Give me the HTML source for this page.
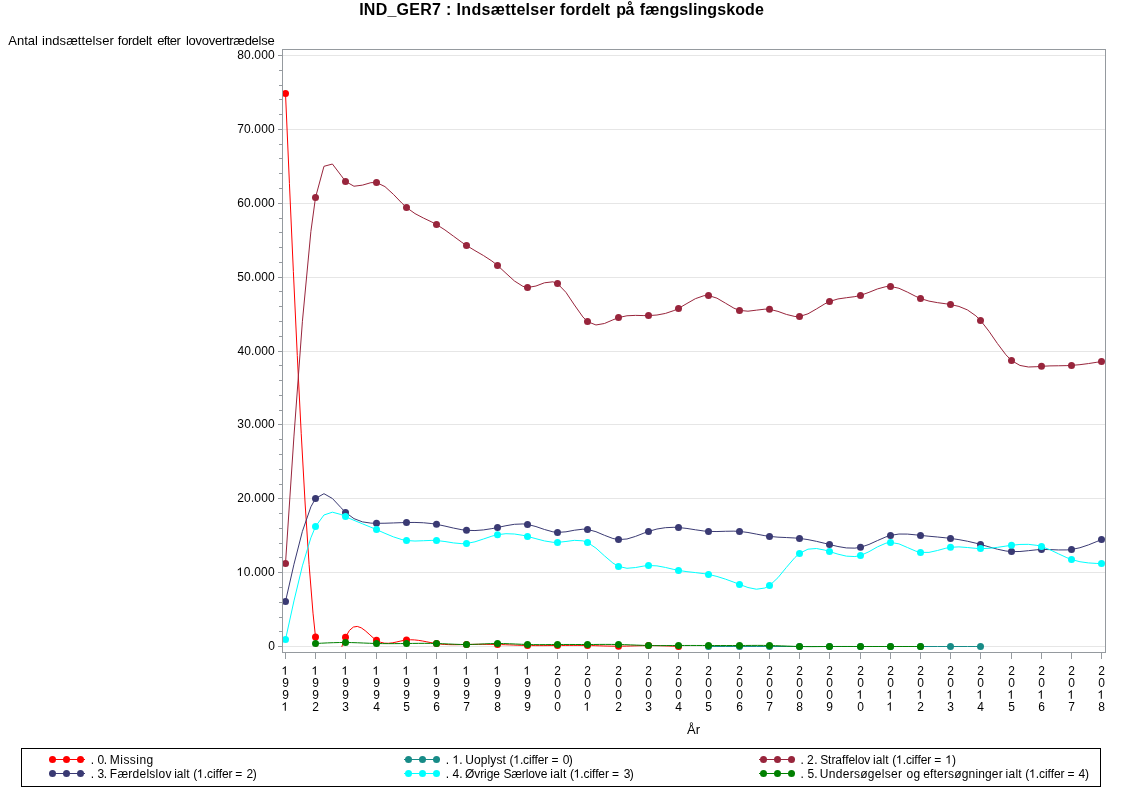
<!DOCTYPE html>
<html><head><meta charset="utf-8"><title>IND_GER7</title>
<style>
html,body{margin:0;padding:0;background:#fff;}
svg{display:block;will-change:transform;}
text{font-family:"Liberation Sans",sans-serif;fill:#000;font-kerning:none;white-space:pre;}
</style></head><body>
<svg width="1122" height="793" viewBox="0 0 1122 793">
<rect x="0" y="0" width="1122" height="793" fill="#fff"/>
<defs>
<clipPath id="cw"><rect x="282" y="49" width="824" height="604"/></clipPath>
<path id="one" d="M763 0H583V1147Q518 1085 412.5 1023Q307 961 223 930V1104Q374 1175 487 1276Q600 1377 647 1472H763Z"/>
</defs>
<g stroke="#E6E6E6" stroke-width="1" shape-rendering="crispEdges"><line x1="283" x2="1105" y1="646.5" y2="646.5"/><line x1="283" x2="1105" y1="572.5" y2="572.5"/><line x1="283" x2="1105" y1="498.5" y2="498.5"/><line x1="283" x2="1105" y1="424.5" y2="424.5"/><line x1="283" x2="1105" y1="351.5" y2="351.5"/><line x1="283" x2="1105" y1="277.5" y2="277.5"/><line x1="283" x2="1105" y1="203.5" y2="203.5"/><line x1="283" x2="1105" y1="129.5" y2="129.5"/><line x1="283" x2="1105" y1="55.5" y2="55.5"/></g>
<g clip-path="url(#cw)"><path d="M285.50 93.60 L289.43 183.54 L293.36 271.52 L297.29 355.57 L301.22 433.72 L305.15 504.01 L309.08 564.48 L313.01 613.15 L315.50 637.00 L316.77 646.90 M341.78 646.90 L343.01 643.42 L345.50 637.20 L349.43 630.43 L353.36 627.05 L357.29 626.41 L361.22 627.82 L365.15 630.61 L369.08 634.12 L373.01 637.66 L376.50 640.30 L380.43 642.23 L384.36 643.16 L388.29 643.29 L392.22 642.86 L396.15 642.08 L400.08 641.18 L404.01 640.37 L406.50 640.00 L410.43 639.77 L414.36 639.90 L418.29 640.33 L422.22 640.95 L426.15 641.70 L430.08 642.47 L434.01 643.20 L436.50 643.60 L440.43 644.08 L444.36 644.41 L448.29 644.60 L452.22 644.68 L456.15 644.68 L460.08 644.63 L464.01 644.55 L466.50 644.50 L470.43 644.43 L474.36 644.37 L478.29 644.34 L482.22 644.32 L486.15 644.33 L490.08 644.37 L494.01 644.42 L497.50 644.50 L501.43 644.61 L505.36 644.74 L509.29 644.89 L513.22 645.04 L517.15 645.19 L521.08 645.32 L525.01 645.44 L527.50 645.50 L531.43 645.57 L535.36 645.61 L539.29 645.62 L543.22 645.62 L547.15 645.60 L551.08 645.56 L555.01 645.53 L557.50 645.50 L561.43 645.46 L565.36 645.43 L569.29 645.40 L573.22 645.39 L577.15 645.39 L581.08 645.41 L585.01 645.46 L587.50 645.50 L591.43 645.59 L595.36 645.70 L599.29 645.82 L603.22 645.94 L607.15 646.05 L611.08 646.13 L615.01 646.19 L618.50 646.20 L622.43 646.17 L626.36 646.10 L630.29 646.00 L634.22 645.89 L638.15 645.78 L642.08 645.69 L646.01 645.62 L648.50 645.60 L652.43 645.60 L656.36 645.65 L660.29 645.73 L664.22 645.84 L668.15 645.98 L672.08 646.13 L676.01 646.29 L678.50 646.40" fill="none" stroke="#FF0000" stroke-width="1"/>
<g fill="#FF0000"><circle cx="285.5" cy="93.6" r="3.5"/><circle cx="315.5" cy="637.0" r="3.5"/><circle cx="345.5" cy="637.2" r="3.5"/><circle cx="376.5" cy="640.3" r="3.5"/><circle cx="406.5" cy="640.0" r="3.5"/><circle cx="436.5" cy="643.6" r="3.5"/><circle cx="466.5" cy="644.5" r="3.5"/><circle cx="497.5" cy="644.5" r="3.5"/><circle cx="527.5" cy="645.5" r="3.5"/><circle cx="557.5" cy="645.5" r="3.5"/><circle cx="587.5" cy="645.5" r="3.5"/><circle cx="618.5" cy="646.2" r="3.5"/><circle cx="648.5" cy="645.6" r="3.5"/><circle cx="678.5" cy="646.4" r="3.5"/></g></g>
<g clip-path="url(#cw)"><path d="M708.50 646.50 L716.96 646.50 L725.42 646.50 L733.88 646.50 L739.50 646.50 L747.96 646.50 L756.42 646.50 L764.88 646.50 L769.50 646.50 L777.96 646.50 L786.42 646.50 L794.88 646.50 L799.50 646.50 L807.96 646.50 L816.42 646.50 L824.88 646.50 L829.50 646.50 L837.96 646.50 L846.42 646.50 L854.88 646.50 L860.50 646.50 L868.96 646.50 L877.42 646.50 L885.88 646.50 L890.50 646.50 L898.96 646.50 L907.42 646.50 L915.88 646.50 L920.50 646.50 L928.96 646.50 L937.42 646.50 L945.88 646.50 L950.50 646.50 L958.96 646.50 L967.42 646.50 L975.88 646.50 L980.50 646.50" fill="none" stroke="#178B87" stroke-width="1"/>
<g fill="#178B87"><circle cx="708.5" cy="646.5" r="3.5"/><circle cx="739.5" cy="646.5" r="3.5"/><circle cx="769.5" cy="646.5" r="3.5"/><circle cx="799.5" cy="646.5" r="3.5"/><circle cx="829.5" cy="646.5" r="3.5"/><circle cx="860.5" cy="646.5" r="3.5"/><circle cx="890.5" cy="646.5" r="3.5"/><circle cx="920.5" cy="646.5" r="3.5"/><circle cx="950.5" cy="646.5" r="3.5"/><circle cx="980.5" cy="646.5" r="3.5"/></g></g>
<g clip-path="url(#cw)"><path d="M285.50 563.40 L293.96 436.09 L302.42 321.29 L310.88 231.50 L315.50 197.50 L323.96 166.32 L332.42 164.03 L340.88 175.18 L345.50 181.40 L353.96 186.23 L362.42 185.15 L370.88 182.68 L376.50 182.50 L384.96 186.61 L393.42 194.34 L401.88 203.15 L406.50 207.50 L414.96 213.59 L423.42 218.03 L431.88 222.05 L436.50 224.50 L444.96 229.94 L453.42 236.13 L461.88 242.35 L466.50 245.50 L474.96 250.62 L483.42 255.51 L491.88 261.00 L497.50 265.40 L505.96 273.26 L514.42 280.96 L522.88 286.33 L527.50 287.50 L535.96 286.02 L544.42 282.81 L552.88 281.80 L557.50 283.60 L565.96 292.37 L574.42 304.97 L582.88 316.94 L587.50 321.60 L595.96 324.98 L604.42 323.50 L612.88 319.88 L618.50 317.60 L626.96 315.77 L635.42 315.39 L643.88 315.58 L648.50 315.60 L656.96 315.03 L665.42 313.43 L673.88 310.57 L678.50 308.40 L686.96 303.47 L695.42 298.66 L703.88 295.71 L708.50 295.50 L716.96 298.17 L725.42 303.14 L733.88 308.15 L739.50 310.40 L747.96 311.20 L756.42 310.16 L764.88 309.16 L769.50 309.30 L777.96 311.39 L786.42 314.43 L794.88 316.49 L799.50 316.50 L807.96 313.82 L816.42 308.97 L824.88 303.80 L829.50 301.50 L837.96 298.94 L846.42 297.72 L854.88 296.63 L860.50 295.40 L868.96 292.35 L877.42 288.94 L885.88 286.65 L890.50 286.40 L898.96 288.27 L907.42 292.11 L915.88 296.44 L920.50 298.50 L928.96 301.10 L937.42 302.64 L945.88 303.79 L950.50 304.50 L958.96 306.43 L967.42 309.92 L975.88 315.83 L980.50 320.40 L988.96 331.25 L997.42 343.50 L1005.88 354.75 L1011.50 360.50 L1019.96 365.45 L1028.42 366.99 L1036.88 366.69 L1041.50 366.30 L1049.96 365.90 L1058.42 365.77 L1066.88 365.61 L1071.50 365.40 L1079.96 364.66 L1088.42 363.57 L1096.88 362.26 L1101.50 361.50" fill="none" stroke="#98253C" stroke-width="1"/>
<g fill="#98253C"><circle cx="285.5" cy="563.4" r="3.5"/><circle cx="315.5" cy="197.5" r="3.5"/><circle cx="345.5" cy="181.4" r="3.5"/><circle cx="376.5" cy="182.5" r="3.5"/><circle cx="406.5" cy="207.5" r="3.5"/><circle cx="436.5" cy="224.5" r="3.5"/><circle cx="466.5" cy="245.5" r="3.5"/><circle cx="497.5" cy="265.4" r="3.5"/><circle cx="527.5" cy="287.5" r="3.5"/><circle cx="557.5" cy="283.6" r="3.5"/><circle cx="587.5" cy="321.6" r="3.5"/><circle cx="618.5" cy="317.6" r="3.5"/><circle cx="648.5" cy="315.6" r="3.5"/><circle cx="678.5" cy="308.4" r="3.5"/><circle cx="708.5" cy="295.5" r="3.5"/><circle cx="739.5" cy="310.4" r="3.5"/><circle cx="769.5" cy="309.3" r="3.5"/><circle cx="799.5" cy="316.5" r="3.5"/><circle cx="829.5" cy="301.5" r="3.5"/><circle cx="860.5" cy="295.4" r="3.5"/><circle cx="890.5" cy="286.4" r="3.5"/><circle cx="920.5" cy="298.5" r="3.5"/><circle cx="950.5" cy="304.5" r="3.5"/><circle cx="980.5" cy="320.4" r="3.5"/><circle cx="1011.5" cy="360.5" r="3.5"/><circle cx="1041.5" cy="366.3" r="3.5"/><circle cx="1071.5" cy="365.4" r="3.5"/><circle cx="1101.5" cy="361.5" r="3.5"/></g></g>
<g clip-path="url(#cw)"><path d="M285.50 601.40 L293.96 564.26 L302.42 531.33 L310.88 506.82 L315.50 498.50 L323.96 493.70 L332.42 498.49 L340.88 507.56 L345.50 512.40 L353.96 518.63 L362.42 521.87 L370.88 523.11 L376.50 523.30 L384.96 523.23 L393.42 522.95 L401.88 522.63 L406.50 522.50 L414.96 522.45 L423.42 522.76 L431.88 523.59 L436.50 524.30 L444.96 526.08 L453.42 528.06 L461.88 529.72 L466.50 530.30 L474.96 530.55 L483.42 529.91 L491.88 528.61 L497.50 527.50 L505.96 525.71 L514.42 524.31 L522.88 523.94 L527.50 524.40 L535.96 526.57 L544.42 529.47 L552.88 531.82 L557.50 532.40 L565.96 531.82 L574.42 530.23 L582.88 529.19 L587.50 529.40 L595.96 531.70 L604.42 535.28 L612.88 538.49 L618.50 539.60 L626.96 538.99 L635.42 536.43 L643.88 533.11 L648.50 531.40 L656.96 529.03 L665.42 527.68 L673.88 527.31 L678.50 527.50 L686.96 528.46 L695.42 529.79 L703.88 530.99 L708.50 531.40 L716.96 531.54 L725.42 531.28 L733.88 531.15 L739.50 531.40 L747.96 532.49 L756.42 534.10 L764.88 535.70 L769.50 536.40 L777.96 537.16 L786.42 537.55 L794.88 537.99 L799.50 538.40 L807.96 539.62 L816.42 541.34 L824.88 543.35 L829.50 544.50 L837.96 546.52 L846.42 547.93 L854.88 548.13 L860.50 547.30 L868.96 544.45 L877.42 540.59 L885.88 536.91 L890.50 535.40 L898.96 534.04 L907.42 534.08 L915.88 534.88 L920.50 535.40 L928.96 536.24 L937.42 537.01 L945.88 537.85 L950.50 538.40 L958.96 539.65 L967.42 541.23 L975.88 543.18 L980.50 544.40 L988.96 546.86 L997.42 549.21 L1005.88 550.99 L1011.50 551.60 L1019.96 551.51 L1028.42 550.68 L1036.88 549.78 L1041.50 549.50 L1049.96 549.58 L1058.42 549.95 L1066.88 549.92 L1071.50 549.50 L1079.96 547.72 L1088.42 544.92 L1096.88 541.49 L1101.50 539.50" fill="none" stroke="#3A3A73" stroke-width="1"/>
<g fill="#3A3A73"><circle cx="285.5" cy="601.4" r="3.5"/><circle cx="315.5" cy="498.5" r="3.5"/><circle cx="345.5" cy="512.4" r="3.5"/><circle cx="376.5" cy="523.3" r="3.5"/><circle cx="406.5" cy="522.5" r="3.5"/><circle cx="436.5" cy="524.3" r="3.5"/><circle cx="466.5" cy="530.3" r="3.5"/><circle cx="497.5" cy="527.5" r="3.5"/><circle cx="527.5" cy="524.4" r="3.5"/><circle cx="557.5" cy="532.4" r="3.5"/><circle cx="587.5" cy="529.4" r="3.5"/><circle cx="618.5" cy="539.6" r="3.5"/><circle cx="648.5" cy="531.4" r="3.5"/><circle cx="678.5" cy="527.5" r="3.5"/><circle cx="708.5" cy="531.4" r="3.5"/><circle cx="739.5" cy="531.4" r="3.5"/><circle cx="769.5" cy="536.4" r="3.5"/><circle cx="799.5" cy="538.4" r="3.5"/><circle cx="829.5" cy="544.5" r="3.5"/><circle cx="860.5" cy="547.3" r="3.5"/><circle cx="890.5" cy="535.4" r="3.5"/><circle cx="920.5" cy="535.4" r="3.5"/><circle cx="950.5" cy="538.4" r="3.5"/><circle cx="980.5" cy="544.4" r="3.5"/><circle cx="1011.5" cy="551.6" r="3.5"/><circle cx="1041.5" cy="549.5" r="3.5"/><circle cx="1071.5" cy="549.5" r="3.5"/><circle cx="1101.5" cy="539.5" r="3.5"/></g></g>
<g clip-path="url(#cw)"><path d="M285.50 639.50 L293.96 600.92 L302.42 565.83 L310.88 537.74 L315.50 526.60 L323.96 515.01 L332.42 512.18 L340.88 514.48 L345.50 516.60 L353.96 520.32 L362.42 523.79 L370.88 527.22 L376.50 529.60 L384.96 533.35 L393.42 536.87 L401.88 539.58 L406.50 540.50 L414.96 541.04 L423.42 540.72 L431.88 540.38 L436.50 540.50 L444.96 541.52 L453.42 542.90 L461.88 543.67 L466.50 543.50 L474.96 541.80 L483.42 539.02 L491.88 536.16 L497.50 534.70 L505.96 533.70 L514.42 534.00 L522.88 535.34 L527.50 536.40 L535.96 538.71 L544.42 540.91 L552.88 542.27 L557.50 542.40 L565.96 541.47 L574.42 540.35 L582.88 540.83 L587.50 542.40 L595.96 548.13 L604.42 555.80 L612.88 563.02 L618.50 566.40 L626.96 568.28 L635.42 567.55 L643.88 566.02 L648.50 565.50 L656.96 565.87 L665.42 567.44 L673.88 569.43 L678.50 570.40 L686.96 571.66 L695.42 572.58 L703.88 573.61 L708.50 574.40 L716.96 576.44 L725.42 579.11 L733.88 582.21 L739.50 584.40 L747.96 587.52 L756.42 589.23 L764.88 588.02 L769.50 585.60 L777.96 577.68 L786.42 567.39 L794.88 557.56 L799.50 553.40 L807.96 549.18 L816.42 548.51 L824.88 550.12 L829.50 551.50 L837.96 554.15 L846.42 556.15 L854.88 556.56 L860.50 555.50 L868.96 551.71 L877.42 546.90 L885.88 543.20 L890.50 542.40 L898.96 543.86 L907.42 547.51 L915.88 551.18 L920.50 552.40 L928.96 552.39 L937.42 550.50 L945.88 548.20 L950.50 547.30 L958.96 546.89 L967.42 547.52 L975.88 548.36 L980.50 548.60 L988.96 548.32 L997.42 547.35 L1005.88 546.10 L1011.50 545.30 L1019.96 544.45 L1028.42 544.34 L1036.88 545.35 L1041.50 546.50 L1049.96 549.74 L1058.42 553.78 L1066.88 557.71 L1071.50 559.50 L1079.96 561.74 L1088.42 562.91 L1096.88 563.44 L1101.50 563.60" fill="none" stroke="#00FFFF" stroke-width="1"/>
<g fill="#00FFFF"><circle cx="285.5" cy="639.5" r="3.5"/><circle cx="315.5" cy="526.6" r="3.5"/><circle cx="345.5" cy="516.6" r="3.5"/><circle cx="376.5" cy="529.6" r="3.5"/><circle cx="406.5" cy="540.5" r="3.5"/><circle cx="436.5" cy="540.5" r="3.5"/><circle cx="466.5" cy="543.5" r="3.5"/><circle cx="497.5" cy="534.7" r="3.5"/><circle cx="527.5" cy="536.4" r="3.5"/><circle cx="557.5" cy="542.4" r="3.5"/><circle cx="587.5" cy="542.4" r="3.5"/><circle cx="618.5" cy="566.4" r="3.5"/><circle cx="648.5" cy="565.5" r="3.5"/><circle cx="678.5" cy="570.4" r="3.5"/><circle cx="708.5" cy="574.4" r="3.5"/><circle cx="739.5" cy="584.4" r="3.5"/><circle cx="769.5" cy="585.6" r="3.5"/><circle cx="799.5" cy="553.4" r="3.5"/><circle cx="829.5" cy="551.5" r="3.5"/><circle cx="860.5" cy="555.5" r="3.5"/><circle cx="890.5" cy="542.4" r="3.5"/><circle cx="920.5" cy="552.4" r="3.5"/><circle cx="950.5" cy="547.3" r="3.5"/><circle cx="980.5" cy="548.6" r="3.5"/><circle cx="1011.5" cy="545.3" r="3.5"/><circle cx="1041.5" cy="546.5" r="3.5"/><circle cx="1071.5" cy="559.5" r="3.5"/><circle cx="1101.5" cy="563.6" r="3.5"/></g></g>
<g clip-path="url(#cw)"><path d="M315.50 643.50 L321.50 643.19 L327.50 642.90 L333.50 642.68 L339.50 642.53 L345.50 642.50 L351.50 642.59 L357.50 642.78 L363.50 643.02 L369.50 643.27 L376.50 643.50 L382.50 643.61 L388.50 643.65 L394.50 643.64 L400.50 643.58 L406.50 643.50 L412.50 643.42 L418.50 643.35 L424.50 643.33 L430.50 643.37 L436.50 643.50 L442.50 643.72 L448.50 643.99 L454.50 644.25 L460.50 644.44 L466.50 644.50 L472.50 644.39 L478.50 644.16 L484.50 643.88 L490.50 643.64 L497.50 643.50 L503.50 643.56 L509.50 643.75 L515.50 644.02 L521.50 644.29 L527.50 644.50 L533.50 644.61 L539.50 644.64 L545.50 644.61 L551.50 644.55 L557.50 644.50 L563.50 644.48 L569.50 644.48 L575.50 644.50 L581.50 644.51 L587.50 644.50 L593.50 644.47 L599.50 644.42 L605.50 644.40 L611.50 644.41 L618.50 644.50 L624.50 644.66 L630.50 644.88 L636.50 645.12 L642.50 645.33 L648.50 645.50 L654.50 645.59 L660.50 645.61 L666.50 645.59 L672.50 645.54 L678.50 645.50 L684.50 645.47 L690.50 645.46 L696.50 645.47 L702.50 645.48 L708.50 645.50 L714.50 645.52 L720.50 645.53 L726.50 645.54 L732.50 645.53 L739.50 645.50 L745.50 645.46 L751.50 645.41 L757.50 645.39 L763.50 645.41 L769.50 645.50 L775.50 645.67 L781.50 645.88 L787.50 646.12 L793.50 646.34 L799.50 646.50 L805.50 646.59 L811.50 646.61 L817.50 646.59 L823.50 646.54 L829.50 646.50 L835.50 646.48 L841.50 646.47 L847.50 646.48 L853.50 646.49 L860.50 646.50 L866.50 646.51 L872.50 646.51 L878.50 646.51 L884.50 646.50 L890.50 646.50 L896.50 646.50 L902.50 646.50 L908.50 646.50 L914.50 646.50 L920.50 646.50" fill="none" stroke="#008000" stroke-width="1"/>
<g fill="#008000"><circle cx="315.5" cy="643.5" r="3.5"/><circle cx="345.5" cy="642.5" r="3.5"/><circle cx="376.5" cy="643.5" r="3.5"/><circle cx="406.5" cy="643.5" r="3.5"/><circle cx="436.5" cy="643.5" r="3.5"/><circle cx="466.5" cy="644.5" r="3.5"/><circle cx="497.5" cy="643.5" r="3.5"/><circle cx="527.5" cy="644.5" r="3.5"/><circle cx="557.5" cy="644.5" r="3.5"/><circle cx="587.5" cy="644.5" r="3.5"/><circle cx="618.5" cy="644.5" r="3.5"/><circle cx="648.5" cy="645.5" r="3.5"/><circle cx="678.5" cy="645.5" r="3.5"/><circle cx="708.5" cy="645.5" r="3.5"/><circle cx="739.5" cy="645.5" r="3.5"/><circle cx="769.5" cy="645.5" r="3.5"/><circle cx="799.5" cy="646.5" r="3.5"/><circle cx="829.5" cy="646.5" r="3.5"/><circle cx="860.5" cy="646.5" r="3.5"/><circle cx="890.5" cy="646.5" r="3.5"/><circle cx="920.5" cy="646.5" r="3.5"/></g></g>
<g stroke="#959A9F" stroke-width="1" fill="none" shape-rendering="crispEdges"><rect x="282.5" y="49.5" width="823" height="603"/><line x1="278" x2="282" y1="646.5" y2="646.5"/><line x1="279" x2="282" y1="631.5" y2="631.5"/><line x1="279" x2="282" y1="617.5" y2="617.5"/><line x1="279" x2="282" y1="602.5" y2="602.5"/><line x1="279" x2="282" y1="587.5" y2="587.5"/><line x1="278" x2="282" y1="572.5" y2="572.5"/><line x1="279" x2="282" y1="557.5" y2="557.5"/><line x1="279" x2="282" y1="543.5" y2="543.5"/><line x1="279" x2="282" y1="528.5" y2="528.5"/><line x1="279" x2="282" y1="513.5" y2="513.5"/><line x1="278" x2="282" y1="498.5" y2="498.5"/><line x1="279" x2="282" y1="484.5" y2="484.5"/><line x1="279" x2="282" y1="469.5" y2="469.5"/><line x1="279" x2="282" y1="454.5" y2="454.5"/><line x1="279" x2="282" y1="439.5" y2="439.5"/><line x1="278" x2="282" y1="424.5" y2="424.5"/><line x1="279" x2="282" y1="410.5" y2="410.5"/><line x1="279" x2="282" y1="395.5" y2="395.5"/><line x1="279" x2="282" y1="380.5" y2="380.5"/><line x1="279" x2="282" y1="365.5" y2="365.5"/><line x1="278" x2="282" y1="351.5" y2="351.5"/><line x1="279" x2="282" y1="336.5" y2="336.5"/><line x1="279" x2="282" y1="321.5" y2="321.5"/><line x1="279" x2="282" y1="306.5" y2="306.5"/><line x1="279" x2="282" y1="291.5" y2="291.5"/><line x1="278" x2="282" y1="277.5" y2="277.5"/><line x1="279" x2="282" y1="262.5" y2="262.5"/><line x1="279" x2="282" y1="247.5" y2="247.5"/><line x1="279" x2="282" y1="232.5" y2="232.5"/><line x1="279" x2="282" y1="218.5" y2="218.5"/><line x1="278" x2="282" y1="203.5" y2="203.5"/><line x1="279" x2="282" y1="188.5" y2="188.5"/><line x1="279" x2="282" y1="173.5" y2="173.5"/><line x1="279" x2="282" y1="158.5" y2="158.5"/><line x1="279" x2="282" y1="144.5" y2="144.5"/><line x1="278" x2="282" y1="129.5" y2="129.5"/><line x1="279" x2="282" y1="114.5" y2="114.5"/><line x1="279" x2="282" y1="99.5" y2="99.5"/><line x1="279" x2="282" y1="85.5" y2="85.5"/><line x1="279" x2="282" y1="70.5" y2="70.5"/><line x1="278" x2="282" y1="55.5" y2="55.5"/><line x1="285.5" x2="285.5" y1="653" y2="659"/><line x1="315.5" x2="315.5" y1="653" y2="659"/><line x1="345.5" x2="345.5" y1="653" y2="659"/><line x1="376.5" x2="376.5" y1="653" y2="659"/><line x1="406.5" x2="406.5" y1="653" y2="659"/><line x1="436.5" x2="436.5" y1="653" y2="659"/><line x1="466.5" x2="466.5" y1="653" y2="659"/><line x1="497.5" x2="497.5" y1="653" y2="659"/><line x1="527.5" x2="527.5" y1="653" y2="659"/><line x1="557.5" x2="557.5" y1="653" y2="659"/><line x1="587.5" x2="587.5" y1="653" y2="659"/><line x1="618.5" x2="618.5" y1="653" y2="659"/><line x1="648.5" x2="648.5" y1="653" y2="659"/><line x1="678.5" x2="678.5" y1="653" y2="659"/><line x1="708.5" x2="708.5" y1="653" y2="659"/><line x1="739.5" x2="739.5" y1="653" y2="659"/><line x1="769.5" x2="769.5" y1="653" y2="659"/><line x1="799.5" x2="799.5" y1="653" y2="659"/><line x1="829.5" x2="829.5" y1="653" y2="659"/><line x1="860.5" x2="860.5" y1="653" y2="659"/><line x1="890.5" x2="890.5" y1="653" y2="659"/><line x1="920.5" x2="920.5" y1="653" y2="659"/><line x1="950.5" x2="950.5" y1="653" y2="659"/><line x1="980.5" x2="980.5" y1="653" y2="659"/><line x1="1011.5" x2="1011.5" y1="653" y2="659"/><line x1="1041.5" x2="1041.5" y1="653" y2="659"/><line x1="1071.5" x2="1071.5" y1="653" y2="659"/><line x1="1101.5" x2="1101.5" y1="653" y2="659"/></g>
<g><text x="268.13" y="650.00" font-size="12px" letter-spacing="0.000">0</text><text x="243.83" y="576.00" font-size="12px" letter-spacing="0.202">0.000</text><use href="#one" transform="translate(236.49 576.00) scale(0.005859 -0.005859)"/><text x="237.20" y="502.00" font-size="12px" letter-spacing="0.154">20.000</text><text x="237.34" y="428.00" font-size="12px" letter-spacing="0.125">30.000</text><text x="237.52" y="355.00" font-size="12px" letter-spacing="0.088">40.000</text><text x="237.32" y="281.00" font-size="12px" letter-spacing="0.129">50.000</text><text x="237.19" y="207.00" font-size="12px" letter-spacing="0.155">60.000</text><text x="237.18" y="133.00" font-size="12px" letter-spacing="0.156">70.000</text><text x="237.28" y="59.00" font-size="12px" letter-spacing="0.137">80.000</text></g>
<g font-size="12px" text-anchor="middle"><use href="#one" transform="translate(281.35 674.80) scale(0.005859 -0.005859)"/><text x="285.5" y="687">9</text><text x="285.5" y="699">9</text><use href="#one" transform="translate(281.35 710.80) scale(0.005859 -0.005859)"/><use href="#one" transform="translate(311.35 674.80) scale(0.005859 -0.005859)"/><text x="315.5" y="687">9</text><text x="315.5" y="699">9</text><text x="315.5" y="711">2</text><use href="#one" transform="translate(341.35 674.80) scale(0.005859 -0.005859)"/><text x="345.5" y="687">9</text><text x="345.5" y="699">9</text><text x="345.5" y="711">3</text><use href="#one" transform="translate(372.35 674.80) scale(0.005859 -0.005859)"/><text x="376.5" y="687">9</text><text x="376.5" y="699">9</text><text x="376.5" y="711">4</text><use href="#one" transform="translate(402.35 674.80) scale(0.005859 -0.005859)"/><text x="406.5" y="687">9</text><text x="406.5" y="699">9</text><text x="406.5" y="711">5</text><use href="#one" transform="translate(432.35 674.80) scale(0.005859 -0.005859)"/><text x="436.5" y="687">9</text><text x="436.5" y="699">9</text><text x="436.5" y="711">6</text><use href="#one" transform="translate(462.35 674.80) scale(0.005859 -0.005859)"/><text x="466.5" y="687">9</text><text x="466.5" y="699">9</text><text x="466.5" y="711">7</text><use href="#one" transform="translate(493.35 674.80) scale(0.005859 -0.005859)"/><text x="497.5" y="687">9</text><text x="497.5" y="699">9</text><text x="497.5" y="711">8</text><use href="#one" transform="translate(523.35 674.80) scale(0.005859 -0.005859)"/><text x="527.5" y="687">9</text><text x="527.5" y="699">9</text><text x="527.5" y="711">9</text><text x="557.5" y="675">2</text><text x="557.5" y="687">0</text><text x="557.5" y="699">0</text><text x="557.5" y="711">0</text><text x="587.5" y="675">2</text><text x="587.5" y="687">0</text><text x="587.5" y="699">0</text><use href="#one" transform="translate(583.35 710.80) scale(0.005859 -0.005859)"/><text x="618.5" y="675">2</text><text x="618.5" y="687">0</text><text x="618.5" y="699">0</text><text x="618.5" y="711">2</text><text x="648.5" y="675">2</text><text x="648.5" y="687">0</text><text x="648.5" y="699">0</text><text x="648.5" y="711">3</text><text x="678.5" y="675">2</text><text x="678.5" y="687">0</text><text x="678.5" y="699">0</text><text x="678.5" y="711">4</text><text x="708.5" y="675">2</text><text x="708.5" y="687">0</text><text x="708.5" y="699">0</text><text x="708.5" y="711">5</text><text x="739.5" y="675">2</text><text x="739.5" y="687">0</text><text x="739.5" y="699">0</text><text x="739.5" y="711">6</text><text x="769.5" y="675">2</text><text x="769.5" y="687">0</text><text x="769.5" y="699">0</text><text x="769.5" y="711">7</text><text x="799.5" y="675">2</text><text x="799.5" y="687">0</text><text x="799.5" y="699">0</text><text x="799.5" y="711">8</text><text x="829.5" y="675">2</text><text x="829.5" y="687">0</text><text x="829.5" y="699">0</text><text x="829.5" y="711">9</text><text x="860.5" y="675">2</text><text x="860.5" y="687">0</text><use href="#one" transform="translate(856.35 698.80) scale(0.005859 -0.005859)"/><text x="860.5" y="711">0</text><text x="890.5" y="675">2</text><text x="890.5" y="687">0</text><use href="#one" transform="translate(886.35 698.80) scale(0.005859 -0.005859)"/><use href="#one" transform="translate(886.35 710.80) scale(0.005859 -0.005859)"/><text x="920.5" y="675">2</text><text x="920.5" y="687">0</text><use href="#one" transform="translate(916.35 698.80) scale(0.005859 -0.005859)"/><text x="920.5" y="711">2</text><text x="950.5" y="675">2</text><text x="950.5" y="687">0</text><use href="#one" transform="translate(946.35 698.80) scale(0.005859 -0.005859)"/><text x="950.5" y="711">3</text><text x="980.5" y="675">2</text><text x="980.5" y="687">0</text><use href="#one" transform="translate(976.35 698.80) scale(0.005859 -0.005859)"/><text x="980.5" y="711">4</text><text x="1011.5" y="675">2</text><text x="1011.5" y="687">0</text><use href="#one" transform="translate(1007.35 698.80) scale(0.005859 -0.005859)"/><text x="1011.5" y="711">5</text><text x="1041.5" y="675">2</text><text x="1041.5" y="687">0</text><use href="#one" transform="translate(1037.35 698.80) scale(0.005859 -0.005859)"/><text x="1041.5" y="711">6</text><text x="1071.5" y="675">2</text><text x="1071.5" y="687">0</text><use href="#one" transform="translate(1067.35 698.80) scale(0.005859 -0.005859)"/><text x="1071.5" y="711">7</text><text x="1101.5" y="675">2</text><text x="1101.5" y="687">0</text><use href="#one" transform="translate(1097.35 698.80) scale(0.005859 -0.005859)"/><text x="1101.5" y="711">8</text></g>
<text x="686.97" y="733.80" font-size="13px" letter-spacing="0.141">År</text>
<text x="8.27" y="45.00" font-size="13px" letter-spacing="-0.009">Antal</text><text x="41.93" y="45.00" font-size="13px" letter-spacing="0.098">indsættelser</text><text x="117.82" y="45.00" font-size="13px" letter-spacing="-0.292">fordelt</text><text x="157.15" y="45.00" font-size="13px" letter-spacing="-0.611">efter</text><text x="185.92" y="45.00" font-size="13px" letter-spacing="-0.267">lovovertrædelse</text>
<text x="359.13" y="14.70" font-size="16px" font-weight="bold" letter-spacing="0.250">IND_GER7</text><text x="445.96" y="14.70" font-size="16px" font-weight="bold" letter-spacing="0.000">:</text><text x="456.58" y="14.70" font-size="16px" font-weight="bold" letter-spacing="0.293">Indsættelser</text><text x="560.03" y="14.70" font-size="16px" font-weight="bold" letter-spacing="0.066">fordelt</text><text x="616.15" y="14.70" font-size="16px" font-weight="bold" letter-spacing="-0.356">på</text><text x="639.83" y="14.70" font-size="16px" font-weight="bold" letter-spacing="0.103">fængslingskode</text>
<rect x="21.5" y="748.5" width="1079" height="38" fill="#fff" stroke="#000" stroke-width="1" shape-rendering="crispEdges"/>
<line x1="49.0" x2="85.0" y1="759.5" y2="759.5" stroke="#FF0000" stroke-width="1"/><circle cx="52.5" cy="759.5" r="3.5" fill="#FF0000"/><circle cx="66.5" cy="759.5" r="3.5" fill="#FF0000"/><circle cx="80.5" cy="759.5" r="3.5" fill="#FF0000"/><text x="90.75" y="763.90" font-size="12px" letter-spacing="0.000">.</text><text x="97.48" y="763.90" font-size="12px" letter-spacing="-0.293">0.</text><text x="109.82" y="763.90" font-size="12px" letter-spacing="0.464">Missing</text>
<line x1="49.0" x2="85.0" y1="773.5" y2="773.5" stroke="#3A3A73" stroke-width="1"/><circle cx="52.5" cy="773.5" r="3.5" fill="#3A3A73"/><circle cx="66.5" cy="773.5" r="3.5" fill="#3A3A73"/><circle cx="80.5" cy="773.5" r="3.5" fill="#3A3A73"/><text x="90.75" y="777.90" font-size="12px" letter-spacing="0.000">.</text><text x="97.49" y="777.90" font-size="12px" letter-spacing="-0.305">3.</text><text x="109.82" y="777.90" font-size="12px" letter-spacing="0.253">Færdelslov</text><text x="174.15" y="777.90" font-size="12px" letter-spacing="0.000">ialt</text><text x="193.16 197.08 203.68 206.95 212.88 215.47 218.74 222.00 228.60" y="777.90" font-size="12px">( .ciffer</text><use href="#one" transform="translate(196.73 777.80) scale(0.005859 -0.005859)"/><text x="235.31" y="777.90" font-size="12px" letter-spacing="0.000">=</text><text x="246.55" y="777.90" font-size="12px" letter-spacing="-0.372">2)</text>
<line x1="404.0" x2="440.0" y1="759.5" y2="759.5" stroke="#178B87" stroke-width="1"/><circle cx="408.5" cy="759.5" r="3.5" fill="#178B87"/><circle cx="422.5" cy="759.5" r="3.5" fill="#178B87"/><circle cx="436.5" cy="759.5" r="3.5" fill="#178B87"/><text x="445.70" y="763.90" font-size="12px" letter-spacing="0.000">.</text><text x="452.69 459.36" y="763.90" font-size="12px"> .</text><use href="#one" transform="translate(452.34 763.80) scale(0.005859 -0.005859)"/><text x="465.17" y="763.90" font-size="12px" letter-spacing="0.117">Uoplyst</text><text x="509.56 513.39 519.91 523.09 528.93 531.44 534.61 537.79 544.30" y="763.90" font-size="12px">( .ciffer</text><use href="#one" transform="translate(513.04 763.80) scale(0.005859 -0.005859)"/><text x="551.41" y="763.90" font-size="12px" letter-spacing="0.000">=</text><text x="562.73" y="763.90" font-size="12px" letter-spacing="-0.557">0)</text>
<line x1="404.0" x2="440.0" y1="773.5" y2="773.5" stroke="#00FFFF" stroke-width="1"/><circle cx="408.5" cy="773.5" r="3.5" fill="#00FFFF"/><circle cx="422.5" cy="773.5" r="3.5" fill="#00FFFF"/><circle cx="436.5" cy="773.5" r="3.5" fill="#00FFFF"/><text x="445.70" y="777.90" font-size="12px" letter-spacing="0.000">.</text><text x="452.42" y="777.90" font-size="12px" letter-spacing="0.263">4.</text><text x="465.08" y="777.90" font-size="12px" letter-spacing="-0.099">Øvrige</text><text x="503.46" y="777.90" font-size="12px" letter-spacing="-0.134">Særlove</text><text x="550.30" y="777.90" font-size="12px" letter-spacing="0.217">ialt</text><text x="569.96 573.82 580.36 583.56 589.43 591.96 595.16 598.36 604.90" y="777.90" font-size="12px">( .ciffer</text><use href="#one" transform="translate(573.47 777.80) scale(0.005859 -0.005859)"/><text x="612.01" y="777.90" font-size="12px" letter-spacing="0.000">=</text><text x="623.74" y="777.90" font-size="12px" letter-spacing="-0.569">3)</text>
<line x1="759.0" x2="795.0" y1="759.5" y2="759.5" stroke="#98253C" stroke-width="1"/><circle cx="763.5" cy="759.5" r="3.5" fill="#98253C"/><circle cx="777.5" cy="759.5" r="3.5" fill="#98253C"/><circle cx="791.5" cy="759.5" r="3.5" fill="#98253C"/><text x="800.60" y="763.90" font-size="12px" letter-spacing="0.000">.</text><text x="807.10" y="763.90" font-size="12px" letter-spacing="0.391">2.</text><text x="820.16" y="763.90" font-size="12px" letter-spacing="-0.056">Straffelov</text><text x="873.10" y="763.90" font-size="12px" letter-spacing="0.084">ialt</text><text x="892.26 896.13 902.68 905.90 911.78 914.32 917.54 920.75 927.30" y="763.90" font-size="12px">( .ciffer</text><use href="#one" transform="translate(895.78 763.80) scale(0.005859 -0.005859)"/><text x="934.31" y="763.90" font-size="12px" letter-spacing="0.000">=</text><text x="945.49 951.95" y="763.90" font-size="12px"> )</text><use href="#one" transform="translate(945.14 763.80) scale(0.005859 -0.005859)"/>
<line x1="759.0" x2="795.0" y1="773.5" y2="773.5" stroke="#008000" stroke-width="1"/><circle cx="763.5" cy="773.5" r="3.5" fill="#008000"/><circle cx="777.5" cy="773.5" r="3.5" fill="#008000"/><circle cx="791.5" cy="773.5" r="3.5" fill="#008000"/><text x="800.60" y="777.90" font-size="12px" letter-spacing="0.000">.</text><text x="807.52" y="777.90" font-size="12px" letter-spacing="-0.032">5.</text><text x="819.87" y="777.90" font-size="12px" letter-spacing="0.277">Undersøgelser</text><text x="906.40" y="777.90" font-size="12px" letter-spacing="0.330">og</text><text x="923.29" y="777.90" font-size="12px" letter-spacing="0.157">eftersøgninger</text><text x="1005.60" y="777.90" font-size="12px" letter-spacing="0.250">ialt</text><text x="1025.36 1029.24 1035.81 1039.04 1044.93 1047.49 1050.71 1053.94 1060.50" y="777.90" font-size="12px">( .ciffer</text><use href="#one" transform="translate(1028.89 777.80) scale(0.005859 -0.005859)"/><text x="1067.51" y="777.90" font-size="12px" letter-spacing="0.000">=</text><text x="1078.42" y="777.90" font-size="12px" letter-spacing="-0.050">4)</text>
</svg>
</body></html>
